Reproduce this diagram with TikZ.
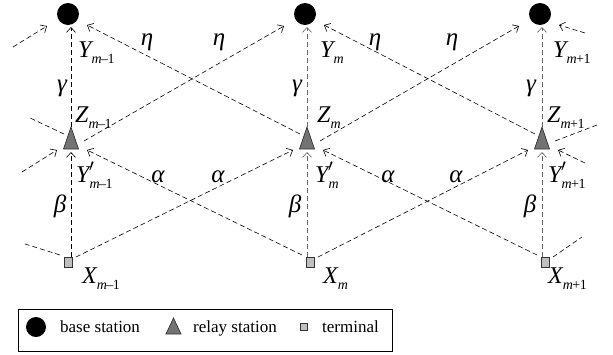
\documentclass[tikz,border=0pt]{standalone}
\usepackage{fontspec}
\setmainfont{Liberation Serif}
\usetikzlibrary{arrows.meta}
\newcommand\mysub[1]{\raisebox{-6pt}{\fontsize{14}{14}\selectfont #1}}
\newcommand\mmo{{\itshape m}\kern-0.5pt–\kern-0.5pt1}
\newcommand\mpo{{\itshape m}\kern-0.5pt+\kern-0.5pt1}
\newcommand\mmm{{\itshape m}}
\newcommand\lbl[2]{{\itshape #1}\kern0pt\mysub{#2}}
\newcommand\lblp[2]{{\itshape #1}\makebox[0pt][l]{\raisebox{1pt}{\kern-0.5pt$^{\prime}$}}\kern0pt\mysub{#2}}
\begin{document}
\begin{tikzpicture}[x=1pt,y=-1pt,
  link/.style={line width=0.6pt, dash pattern=on 5pt off 3pt},
  arr/.style={link,-{Straight Barb[length=5pt,width=9pt,line width=0.6pt]}},
  garr/.style={arr,draw=black!60,line width=0.9pt},
  bs/.style={circle,fill=black,minimum size=22pt,inner sep=0pt},
  term/.style={rectangle,draw=black!80,fill=black!25,line width=0.7pt,minimum width=8pt,minimum height=10pt,inner sep=0pt},
  rsfill/.style={draw=black!80,fill=black!55,line width=0.7pt},
  lab/.style={inner sep=0pt,font=\fontsize{24}{24}\selectfont},
  glab/.style={inner sep=0pt,font=\fontsize{25}{25}\selectfont\itshape},
  leg/.style={inner sep=0pt,font=\fontsize{17}{17}\selectfont,anchor=base west}]
\useasboundingbox (0,0) rectangle (613,354);
% columns
\foreach \i/\cc/\ct/\cs in {1/68/71/68, 2/305/307/310, 3/540/542/545}{
  \node[bs] (C\i) at (\cc,14) {};
  \node[term] (S\i) at (\cs,262) {};
  \coordinate (R\i) at (\ct,140);
  \path[rsfill] (\ct,127) -- (\ct+7.5,149) -- (\ct-7.5,149) -- cycle;
  \coordinate (C\i-l) at (\cc-21,26);
  \coordinate (C\i-r) at (\cc+19,25);
  \coordinate (C\i-b) at (\ct,27);
  \coordinate (R\i-t) at (\ct,127);
  \coordinate (R\i-l) at (\ct-7,134);
  \coordinate (R\i-r) at (\ct+13,141);
  \coordinate (R\i-il) at (\ct-14,150);
  \coordinate (R\i-ir) at (\ct+16,150);
  \coordinate (R\i-b) at (\ct,152);
  \coordinate (S\i-t) at (\ct,257);
  \coordinate (S\i-l) at (\cs-8,255);
  \coordinate (S\i-r) at (\cs+8,257);
}
% vertical links
\draw[arr] (S1-t) -- (R1-b);
\draw[arr] (R1-t) -- (C1-b);
\draw[garr] (S2-t) -- (R2-b);
\draw[garr] (R2-t) -- (C2-b);
\draw[garr] (S3-t) -- (R3-b);
\draw[garr] (R3-t) -- (C3-b);
% crossing links
\foreach \a/\b in {1/2, 2/3}{
  \draw[arr] (S\a-r) -- (R\b-il);
  \draw[arr] (S\b-l) -- (R\a-ir);
  \draw[arr] (R\a-r) -- (C\b-l);
  \draw[arr] (R\b-l) -- (C\a-r);
}
% edge links
\coordinate (E1) at (13,47);
\coordinate (E2) at (28,117);
\coordinate (E3) at (22,172);
\coordinate (E4) at (22,243);
\coordinate (E5) at (585,33);
\coordinate (E6) at (597,125);
\coordinate (E7) at (585,163);
\coordinate (E8) at (582,237);
\draw[arr] (E1) -- (C1-l);
\draw[link] (R1-l) -- (E2);
\draw[arr] (E3) -- (R1-il);
\draw[link] (S1-l) -- (E4);
\draw[arr] (E5) -- (C3-r);
\draw[link] (R3-r) -- (E6);
\draw[arr] (E7) -- (R3-ir);
\draw[link] (S3-r) -- (E8);
% node labels
\node[lab,anchor=base west] (LY1) at (78,57) {\lbl{Y}{\mmo}};
\node[lab,anchor=base west] (LZ1) at (75,122) {\lbl{Z}{\mmo}};
\node[lab,anchor=base west] (LP1) at (76,182) {\lblp{Y}{\mmo}};
\node[lab,anchor=base west] (LX1) at (82,283) {\lbl{X}{\mmo}};
\node[lab,anchor=base west] (LY2) at (320,57) {\lbl{Y}{\mmm}};
\node[lab,anchor=base west] (LZ2) at (317,122) {\lbl{Z}{\mmm}};
\node[lab,anchor=base west] (LP2) at (315,182) {\lblp{Y}{\mmm}};
\node[lab,anchor=base west] (LX2) at (323,283) {\lbl{X}{\mmm}};
\node[lab,anchor=base west] (LY3) at (553,57) {\lbl{Y}{\mpo}};
\node[lab,anchor=base west] (LZ3) at (547,122) {\lbl{Z}{\mpo}};
\node[lab,anchor=base west] (LP3) at (548,182) {\lblp{Y}{\mpo}};
\node[lab,anchor=base west] (LX3) at (548,283) {\lbl{X}{\mpo}};
% greek labels
\node[glab] (eta1) at (147,42) {η};
\node[glab] (eta2) at (219,42) {η};
\node[glab] (eta3) at (375,42) {η};
\node[glab] (eta4) at (452,42) {η};
\node[glab] (gam1) at (62,88) {γ};
\node[glab] (gam2) at (297,88) {γ};
\node[glab] (gam3) at (531,88) {γ};
\node[glab] (alp1) at (158,177) {α};
\node[glab] (alp2) at (218,177) {α};
\node[glab] (alp3) at (388,177) {α};
\node[glab] (alp4) at (456,177) {α};
\node[glab] (bet1) at (60,206) {β};
\node[glab] (bet2) at (295,206) {β};
\node[glab] (bet3) at (530,206) {β};
% legend
\node[draw,line width=0.8pt,minimum width=374pt,minimum height=42pt,inner sep=0pt,anchor=north west] (legend) at (18,309) {};
\node[bs,minimum size=20pt] (lbs) at (36,327) {};
\node[leg] (tbs) at (60,332) {base station};
\path[rsfill] (173.5,318) -- (181,334) -- (166,334) -- cycle;
\coordinate (lrs) at (173.5,327);
\node[leg] (trs) at (193,332) {relay station};
\node[term,minimum width=7pt,minimum height=7pt] (lterm) at (303.5,326.5) {};
\node[leg] (tterm) at (322,332) {terminal};
\end{tikzpicture}
\end{document}
